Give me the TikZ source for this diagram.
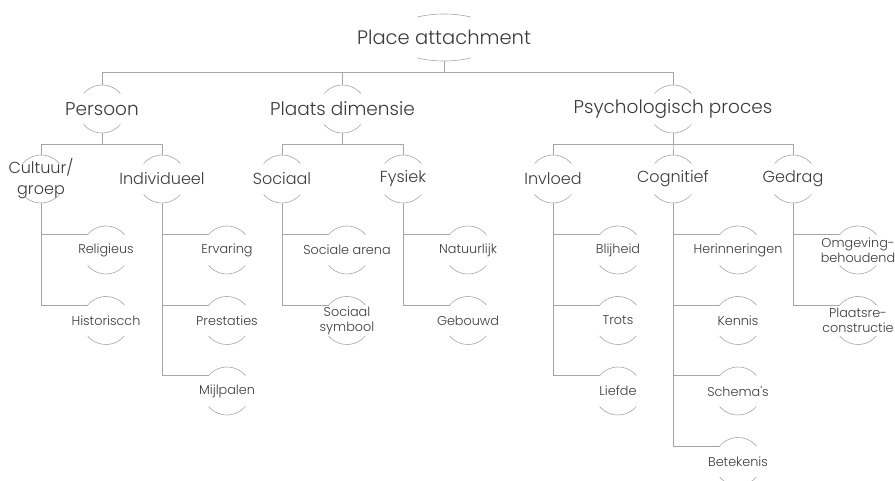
\documentclass[tikz,border=0pt]{standalone}
\usepackage{fontspec}
\setmainfont{Poppins}[UprightFont=* Light]
\usetikzlibrary{calc,shapes.geometric}
\definecolor{inkgray}{HTML}{3A3A3A}
\definecolor{wiregray}{HTML}{A6A6A6}
\tikzset{
  bub/.style={circle, minimum size=48pt, inner sep=0pt, outer sep=0pt},
  t0/.style={font=\fontsize{19.5}{22}\selectfont, text=inkgray},
  t1/.style={font=\fontsize{18.5}{21}\selectfont, text=inkgray},
  t2/.style={font=\fontsize{16}{21}\selectfont, text=inkgray, align=center},
  t3/.style={font=\fontsize{12.8}{15}\selectfont, text=inkgray, align=center},
  link/.style={draw=wiregray, line width=1pt},
  rim/.style={draw=wiregray, line width=0.6pt},
}
\begin{document}
\begin{tikzpicture}[x=1pt,y=1pt]
\useasboundingbox (0,0) rectangle (895,-481);
% root
\node[ellipse, minimum width=108pt, minimum height=47pt, inner sep=0pt, outer sep=0pt, label={[t0]center:Place attachment}] (pa) at (444,-37.5) {};
\draw[rim] ($(pa)+(60:54pt and 23.5pt)$) arc[start angle=60, end angle=120, x radius=54pt, y radius=23.5pt]
  ($(pa)+(240:54pt and 23.5pt)$) arc[start angle=240, end angle=300, x radius=54pt, y radius=23.5pt];
% first level
\node[bub, label={[t1]center:Persoon}] (pers) at (102,-109) {};
\node[bub, label={[t1]center:Plaats dimensie}] (plaats) at (342.5,-109) {};
\node[bub, label={[t1]center:Psychologisch proces}] (psych) at (673,-109) {};
% second level
\node[bub, label={[t2]center:Cultuur/\\groep}] (cult) at (41,-179) {};
\node[bub, label={[t2]center:Individueel}] (indiv) at (162,-179) {};
\node[bub, label={[t2]center:Sociaal}] (soc) at (282,-179) {};
\node[bub, label={[t2]center:Fysiek}] (fys) at (403,-179) {};
\node[bub, label={[t2]center:Invloed}] (invl) at (553,-179) {};
\node[bub, label={[t2]center:Cognitief}] (cogn) at (673,-179) {};
\node[bub, label={[t2]center:Gedrag}] (gedr) at (793,-179) {};
% leaves
\node[bub, label={[t3]center:Religieus}] (relig) at (106,-250) {};
\node[bub, label={[t3]center:Historiscch}] (hist) at (106,-320.5) {};
\node[bub, label={[t3]center:Ervaring}] (erv) at (227,-250) {};
\node[bub, label={[t3]center:Prestaties}] (prest) at (227,-320.5) {};
\node[bub, label={[t3]center:Mijlpalen}] (mijl) at (227,-391) {};
\node[bub, label={[t3]center:Sociale arena}] (socar) at (347,-250) {};
\node[bub, label={[t3]center:Sociaal\\symbool}] (socsym) at (347,-320.5) {};
\node[bub, label={[t3]center:Natuurlijk}] (natuur) at (468,-250) {};
\node[bub, label={[t3]center:Gebouwd}] (gebouw) at (468,-320.5) {};
\node[bub, label={[t3]center:Blijheid}] (blij) at (618,-250) {};
\node[bub, label={[t3]center:Trots}] (trots) at (618,-320.5) {};
\node[bub, label={[t3]center:Liefde}] (liefde) at (618,-391) {};
\node[bub, label={[t3]center:Herinneringen}] (herin) at (738,-250) {};
\node[bub, label={[t3]center:Kennis}] (kennis) at (738,-320.5) {};
\node[bub, label={[t3]center:Schema\textquotesingle s}] (schema) at (738,-391) {};
\node[bub, label={[t3]center:Betekenis}] (betek) at (738,-461.5) {};
\node[bub, label={[t3]center:Omgeving-\\behoudend}] (omgev) at (858,-250) {};
\node[bub, label={[t3]center:Plaatsre-\\constructie}] (plaatsre) at (858,-320.5) {};
% top and bottom caps of every bubble
\foreach \n in {pers,plaats,psych,cult,indiv,soc,fys,invl,cogn,gedr,relig,hist,erv,prest,mijl,socar,socsym,natuur,gebouw,blij,trots,liefde,herin,kennis,schema,betek,omgev,plaatsre}
  \draw[rim] (\n.40) arc[start angle=40, end angle=140, radius=24pt]
    (\n.220) arc[start angle=220, end angle=320, radius=24pt];
% connectors
\draw[link] (pa.south) -- ++(0,-12) -| (pers.north);
\draw[link] (pa.south) -- ++(0,-12) -| (plaats.north);
\draw[link] (pa.south) -- ++(0,-12) -| (psych.north);
\draw[link] (pers.south) -- ++(0,-12) -| (cult.north);
\draw[link] (pers.south) -- ++(0,-12) -| (indiv.north);
\draw[link] (plaats.south) -- ++(0,-12) -| (soc.north);
\draw[link] (plaats.south) -- ++(0,-12) -| (fys.north);
\draw[link] (psych.south) -- ++(0,-12) -| (invl.north);
\draw[link] (psych.south) -- ++(0,-12) -| (cogn.north);
\draw[link] (psych.south) -- ++(0,-12) -| (gedr.north);
\draw[link] (cult.south) |- (relig.140);
\draw[link] (cult.south) |- (hist.140);
\draw[link] (indiv.south) |- (erv.140);
\draw[link] (indiv.south) |- (prest.140);
\draw[link] (indiv.south) |- (mijl.140);
\draw[link] (soc.south) |- (socar.140);
\draw[link] (soc.south) |- (socsym.140);
\draw[link] (fys.south) |- (natuur.140);
\draw[link] (fys.south) |- (gebouw.140);
\draw[link] (invl.south) |- (blij.140);
\draw[link] (invl.south) |- (trots.140);
\draw[link] (invl.south) |- (liefde.140);
\draw[link] (cogn.south) |- (herin.140);
\draw[link] (cogn.south) |- (kennis.140);
\draw[link] (cogn.south) |- (schema.140);
\draw[link] (cogn.south) |- (betek.140);
\draw[link] (gedr.south) |- (omgev.140);
\draw[link] (gedr.south) |- (plaatsre.140);
\end{tikzpicture}
\end{document}
